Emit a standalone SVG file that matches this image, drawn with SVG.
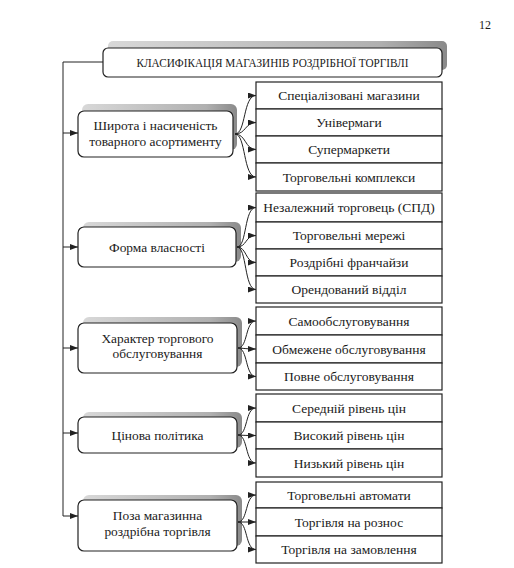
<svg xmlns="http://www.w3.org/2000/svg" width="514" height="568" viewBox="0 0 514 568">
<defs>
<linearGradient id="sh" x1="0" y1="0" x2="1" y2="0">
<stop offset="0" stop-color="#d8d8d8"/>
<stop offset="0.8" stop-color="#b0b0b0"/>
<stop offset="1" stop-color="#8a8a8a"/>
</linearGradient>
<marker id="ah" viewBox="0 0 8 6" refX="8" refY="3" markerWidth="8" markerHeight="6" markerUnits="userSpaceOnUse" orient="auto">
<path d="M0,0 L8,3 L0,6 Z" fill="#222"/>
</marker>
</defs>
<style>
text{font-family:"Liberation Serif","Times New Roman",serif;fill:#1a1a1a;text-anchor:middle}
.t{font-size:13px}
.n{font-size:13.4px}
.i{font-size:13.5px}
.box{fill:#fff;stroke:#222;stroke-width:1.2}
.sh{fill:url(#sh)}
.cell{fill:#fff;stroke:#222;stroke-width:1.2}
.c{fill:none;stroke:#222;stroke-width:1}
</style>
<rect width="514" height="568" fill="#fff"/>
<text x="485" y="29" style="font-size:12px">12</text>

<g id="title">
<rect class="sh" x="108" y="41" width="339" height="29" rx="5"/>
<rect class="box" x="103" y="48" width="339" height="29" rx="5"/>
<text class="t" x="272.5" y="67" textLength="272" lengthAdjust="spacingAndGlyphs">КЛАСИФІКАЦІЯ МАГАЗИНІВ РОЗДРІБНОЇ ТОРГІВЛІ</text>
</g>

<g id="node1">
<rect class="sh" x="82" y="104" width="155" height="46" rx="6"/>
<rect class="box" x="78" y="111" width="155" height="46" rx="6"/>
<text class="n" x="155.5" y="130">Широта і насиченість</text>
<text class="n" x="155.5" y="146">товарного асортименту</text>
</g>
<g id="node2">
<rect class="sh" x="83" y="222" width="158" height="40" rx="6"/>
<rect class="box" x="78" y="227" width="158" height="40" rx="6"/>
<text class="n" x="157" y="251.5">Форма власності</text>
</g>
<g id="node3">
<rect class="sh" x="83" y="317" width="159" height="50" rx="6"/>
<rect class="box" x="78" y="323" width="159" height="50" rx="6"/>
<text class="n" x="157.5" y="343">Характер торгового</text>
<text class="n" x="157.5" y="358">обслуговування</text>
</g>
<g id="node4">
<rect class="sh" x="83" y="412" width="159" height="36" rx="6"/>
<rect class="box" x="78" y="417" width="159" height="36" rx="6"/>
<text class="n" x="157.5" y="439.5">Цінова політика</text>
</g>
<g id="node5">
<rect class="sh" x="83" y="495" width="159" height="51" rx="6"/>
<rect class="box" x="78" y="500" width="159" height="51" rx="6"/>
<text class="n" x="157.5" y="520">Поза магазинна</text>
<text class="n" x="157.5" y="536">роздрібна торгівля</text>
</g>

<g id="group1">
<rect class="cell" x="256" y="82" width="186" height="27"/>
<rect class="cell" x="256" y="109" width="186" height="27"/>
<rect class="cell" x="256" y="136" width="186" height="27"/>
<rect class="cell" x="256" y="163" width="186" height="28"/>
<text class="i" x="349" y="100">Спеціалізовані магазини</text>
<text class="i" x="349" y="127">Універмаги</text>
<text class="i" x="349" y="154">Супермаркети</text>
<text class="i" x="349" y="181.5">Торговельні комплекси</text>
</g>
<g id="group2">
<rect class="cell" x="256" y="193" width="186" height="29"/>
<rect class="cell" x="256" y="222" width="186" height="27"/>
<rect class="cell" x="256" y="249" width="186" height="27"/>
<rect class="cell" x="256" y="276" width="186" height="27"/>
<text class="i" x="349" y="212">Незалежний торговець (СПД)</text>
<text class="i" x="349" y="240">Торговельні мережі</text>
<text class="i" x="349" y="267">Роздрібні франчайзи</text>
<text class="i" x="349" y="294">Орендований відділ</text>
</g>
<g id="group3">
<rect class="cell" x="256" y="307" width="186" height="28"/>
<rect class="cell" x="256" y="335" width="186" height="28"/>
<rect class="cell" x="256" y="363" width="186" height="27"/>
<text class="i" x="349" y="325.5">Самообслуговування</text>
<text class="i" x="349" y="353.5">Обмежене обслуговування</text>
<text class="i" x="349" y="381">Повне обслуговування</text>
</g>
<g id="group4">
<rect class="cell" x="256" y="394" width="186" height="28"/>
<rect class="cell" x="256" y="422" width="186" height="27"/>
<rect class="cell" x="256" y="449" width="186" height="28"/>
<text class="i" x="349" y="412.5">Середній рівень цін</text>
<text class="i" x="349" y="440">Високий рівень цін</text>
<text class="i" x="349" y="467.5">Низький рівень цін</text>
</g>
<g id="group5">
<rect class="cell" x="256" y="482" width="186" height="26"/>
<rect class="cell" x="256" y="508" width="186" height="28"/>
<rect class="cell" x="256" y="536" width="186" height="27"/>
<text class="i" x="349" y="499.5">Торговельні автомати</text>
<text class="i" x="349" y="526.5">Торгівля на рознос</text>
<text class="i" x="349" y="554">Торгівля на замовлення</text>
</g>

<g id="connectors">
<path class="c" d="M103,62 H63 V516"/>
<path class="c" marker-end="url(#ah)" d="M63,133 H78"/>
<path class="c" marker-end="url(#ah)" d="M63,247 H78"/>
<path class="c" marker-end="url(#ah)" d="M63,348 H78"/>
<path class="c" marker-end="url(#ah)" d="M63,433 H78"/>
<path class="c" marker-end="url(#ah)" d="M63,516 H78"/>

<path class="c" marker-end="url(#ah)" d="M235,134 C246,134 243,95.5 256,95.5"/>
<path class="c" marker-end="url(#ah)" d="M235,134 C246,134 245,122.5 256,122.5"/>
<path class="c" marker-end="url(#ah)" d="M235,134 C246,134 245,149.5 256,149.5"/>
<path class="c" marker-end="url(#ah)" d="M235,134 C246,134 243,177 256,177"/>

<path class="c" marker-end="url(#ah)" d="M237,247 C247,247 244,207.5 256,207.5"/>
<path class="c" marker-end="url(#ah)" d="M237,247 C247,247 245,235.5 256,235.5"/>
<path class="c" marker-end="url(#ah)" d="M237,247 C247,247 245,262.5 256,262.5"/>
<path class="c" marker-end="url(#ah)" d="M237,247 C247,247 244,289.5 256,289.5"/>

<path class="c" marker-end="url(#ah)" d="M238,348 C248,348 245,321 256,321"/>
<path class="c" marker-end="url(#ah)" d="M238,348 C246,348.5 248,349 256,349"/>
<path class="c" marker-end="url(#ah)" d="M238,348 C248,348 245,376.5 256,376.5"/>

<path class="c" marker-end="url(#ah)" d="M238,435 C248,435 245,408 256,408"/>
<path class="c" marker-end="url(#ah)" d="M238,435 C246,435.5 248,435.5 256,435.5"/>
<path class="c" marker-end="url(#ah)" d="M238,435 C248,435 245,463 256,463"/>

<path class="c" marker-end="url(#ah)" d="M238,522 C248,522 245,495 256,495"/>
<path class="c" marker-end="url(#ah)" d="M238,522 C246,522 248,522 256,522"/>
<path class="c" marker-end="url(#ah)" d="M238,522 C248,522 245,549.5 256,549.5"/>
</g>
</svg>
